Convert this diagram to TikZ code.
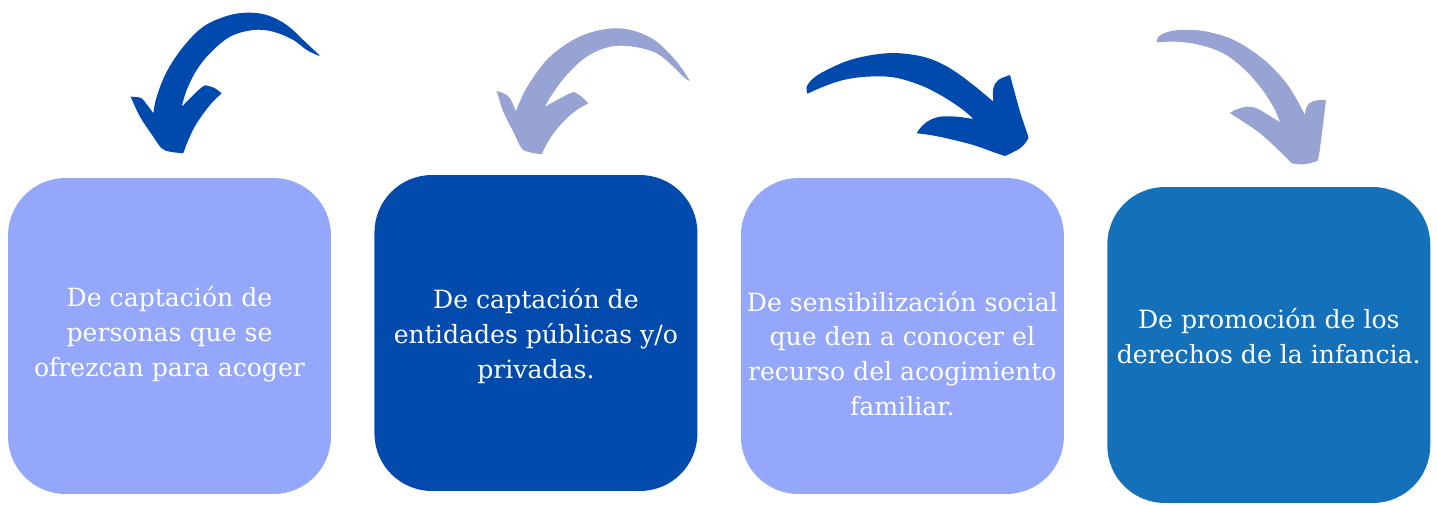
\documentclass[tikz,border=0pt]{standalone}
\usepackage{fontspec}
\setmainfont{DejaVu Serif}
\usepackage{tikz}
\usetikzlibrary{positioning}

\definecolor{lightbox}{RGB}{148,167,250}
\definecolor{darkbox}{RGB}{2,75,172}
\definecolor{midbox}{RGB}{20,112,185}
\definecolor{darkarrow}{RGB}{0,74,173}
\definecolor{lightarrow}{RGB}{151,163,211}

\begin{document}
\begin{tikzpicture}[
			        x=0.02cm, y=-0.02cm,
			        node distance=7.33cm,
			        box/.style={rectangle, rounded corners=1.15cm, minimum width=6.46cm, minimum height=6.32cm, inner sep=0pt},
			        boxtext/.style={text=white, align=center, inner sep=0pt, font=\fontsize{14.3}{19.8}\selectfont},
			        every plot/.style={smooth, tension=0.6}
			        ]
			        \useasboundingbox (0,0) rectangle (1437,504);

			        \node[box, fill=lightbox] (acoger) at (169.5,336) {};
			        \node[box, fill=darkbox] (entidades) [right of=acoger, yshift=0.06cm] {};
			        \node[box, fill=lightbox] (sensibilizacion) [right of=entidades, yshift=-0.06cm] {};
			        \node[box, fill=midbox] (promocion) [right of=sensibilizacion, yshift=-0.18cm] {};

			        \node[boxtext] (acogertxt) at ([yshift=0.04cm]acoger.center) {De captación de\\personas que se\\ofrezcan para acoger};
			        \node[boxtext] (entidadestxt) at ([yshift=-0.06cm]entidades.center) {De captación de\\entidades públicas y/o\\privadas.};
			        \node[boxtext] (sensibilizaciontxt) at ([yshift=-0.35cm]sensibilizacion.center) {De sensibilización social\\que den a conocer el\\recurso del acogimiento\\familiar.};
			        \node[boxtext] (promociontxt) at ([yshift=0.17cm]promocion.center) {De promoción de los\\derechos de la infancia.};

			        \fill[darkarrow]
			              plot coordinates {(319.3,55) (306.7,43.3) (286.7,25) (266.7,15) (246.7,12.7) (226.7,16) (203.3,26.7) (183.3,46.7) (166.7,71.7) (156.7,96.7) (153.3,113.3)}
			              -- plot coordinates {(153.3,113.3) (143.3,100) (138.3,97.3) (130.7,96.7)}
			              -- plot coordinates {(130.7,96.7) (140,116.7) (153.3,136.7) (161.7,148.3) (170,151.7) (183.3,153.3)}
			              -- plot coordinates {(183.3,153.3) (188.3,140) (196.7,123.3) (210,105) (221.7,93.3)}
			              -- plot coordinates {(221.7,93.3) (215,88.3) (208.3,86) (201.7,87.3) (181.7,106.7)}
			              -- plot coordinates {(181.7,106.7) (186.7,90) (196.7,70) (210,53.3) (230,36.7) (253.3,30) (273.3,31.7) (293.3,40) (306.7,50) (319.3,56)}
			              -- cycle;

			        \fill[lightarrow]
			              plot coordinates {(689.3,80) (676.7,61.7) (656.7,41.7) (636.7,31.7) (616.7,28.3) (593.3,31.7) (570,41.7) (546.7,60) (528.3,85) (518.3,105) (516,111.7)}
			              -- plot coordinates {(516,111.7) (510,98.3) (503.3,93.3) (496.7,91)}
			              -- plot coordinates {(496.7,91) (503.3,111.7) (513.3,131.7) (521.7,148.3) (530,152.3) (541.7,154.3)}
			              -- plot coordinates {(541.7,154.3) (550,138.3) (563.3,121.7) (576.7,110) (588.3,103.3)}
			              -- plot coordinates {(588.3,103.3) (583.3,98.3) (576.7,93.3) (570,93.3) (545,106.7)}
			              -- plot coordinates {(545,106.7) (551.7,95) (566.7,75) (586.7,56.7) (610,46.7) (633.3,46.7) (656.7,53.3) (673.3,66.7) (683.3,76.7) (689.3,81)}
			              -- cycle;

			        \fill[darkarrow]
			              plot coordinates {(807.3,93.3) (806.7,86.7) (813.3,78.3) (826.7,70) (850,60) (876.7,54.3) (900,53.3) (926.7,57.7) (950,68.3) (973.3,85) (993.3,101.7)}
			              -- plot coordinates {(993.3,101.7) (993.3,88.3) (998.3,80) (1010,75)}
			              -- plot coordinates {(1010,75) (1020,111.7) (1027.7,135) (1027.3,140) (1020,148.3) (1005,156)}
			              -- plot coordinates {(1005,156) (996.7,153.3) (973.3,145) (946.7,138.3) (930,135) (916.7,133.3)}
			              -- plot coordinates {(916.7,133.3) (920,128.3) (928.3,121) (940,116.7) (956.7,116.7) (973.3,119)}
			              -- plot coordinates {(973.3,119) (963.3,110) (943.3,96.7) (920,85) (893.3,77.3) (866.7,76.7) (843.3,80) (823.3,86.7) (808.3,93.3)}
			              -- cycle;

			        \fill[lightarrow]
			              plot coordinates {(1156.7,41.7) (1158.3,36.7) (1166.7,32.3) (1180,30) (1203.3,31) (1230,38.3) (1253.3,51.7) (1273.3,68.3) (1290,88.3) (1305,115)}
			              -- plot coordinates {(1305,115) (1306.7,106.7) (1313.3,101) (1326,100)}
			              -- plot coordinates {(1326,100) (1321.7,135) (1318.3,158.3) (1315,161.7) (1303.3,164.3) (1291.7,163.3)}
			              -- plot coordinates {(1291.7,163.3) (1276.7,148.3) (1260,133.3) (1243.3,121.7) (1230,113.3)}
			              -- plot coordinates {(1230,113.3) (1235,110) (1246.7,106.7) (1256.7,108.3) (1268.3,115) (1280,122.3)}
			              -- plot coordinates {(1280,122.3) (1273.3,106.7) (1260,86.7) (1243.3,68.3) (1223.3,53.3) (1200,45) (1176.7,41.7) (1156.7,42.3)}
			              -- cycle;
			    \end{tikzpicture}
\end{document}
